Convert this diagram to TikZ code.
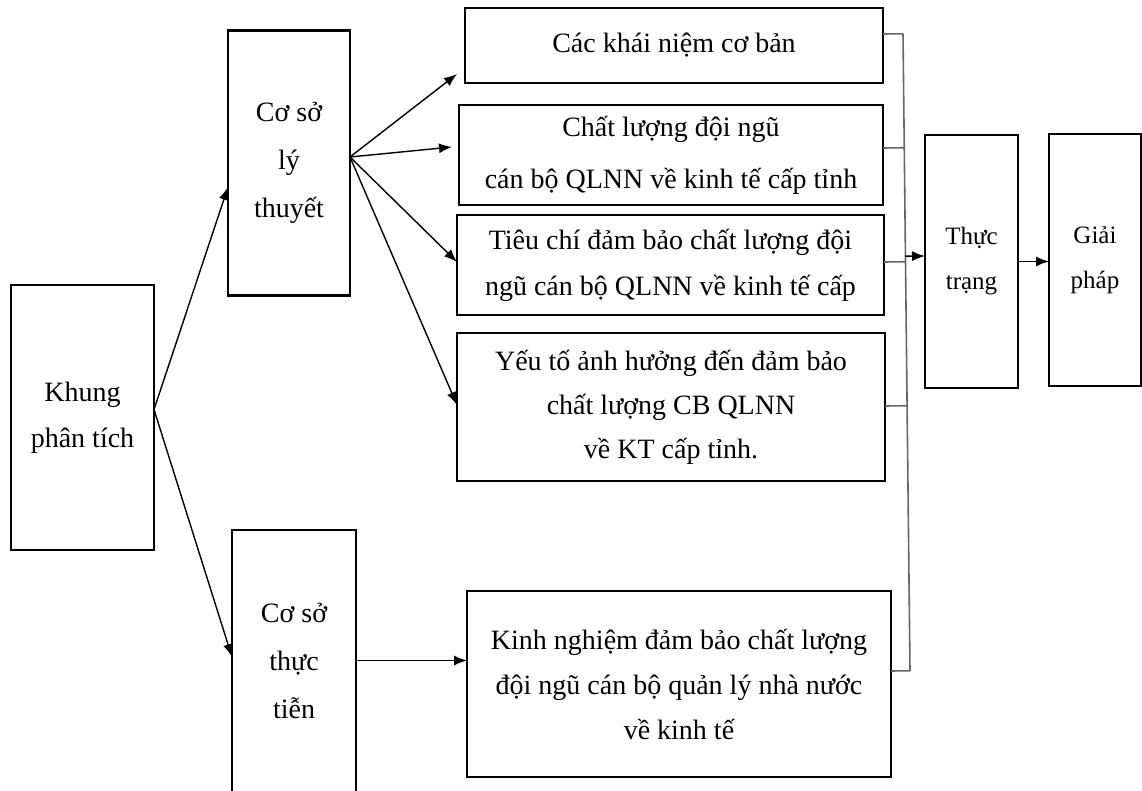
\documentclass[tikz,border=0pt]{standalone}
\usepackage{fontspec}
\setmainfont{Liberation Serif}
\usetikzlibrary{calc,arrows.meta}
\begin{document}
\begin{tikzpicture}[x=1pt,y=-1pt,
  box/.style={draw, line width=2.8pt, inner sep=0pt, outer sep=0pt, align=center,
    font=\fontsize{28}{46}\selectfont},
  openbox/.style={inner sep=0pt, outer sep=0pt, align=center,
    font=\fontsize{28}{48}\selectfont},
  smallbox/.style={box, font=\fontsize{25}{45}\selectfont},
  arr/.style={line width=1.4pt, -{Latex[length=13pt,width=10pt]}},
  brk/.style={line width=1.6pt, draw=black!60}]
\useasboundingbox (0,0) rectangle (1142,791);
\fill[white] (0,0) rectangle (1142,791);

\node[box, minimum width=143, minimum height=265] (kh) at (82.5,417.5) {Khung\\phân tích};
\node[box, minimum width=122, minimum height=265, font=\fontsize{28}{48}\selectfont] (lt) at (289,163) {Cơ sở\\lý\\thuyết};
\node[openbox, minimum width=124, minimum height=261] (ts) at (294,660.5) {Cơ sở\\thực\\tiễn};
\draw[line width=2.8pt] (ts.south west) -- (ts.north west) -- (ts.north east) -- (ts.south east);

\node[box, minimum width=418, minimum height=75] (k1) at (674,45.5) {Các khái niệm cơ bản};
\node[box, minimum width=424, minimum height=100, font=\fontsize{28}{52}\selectfont] (k2) at (671,155) {Chất lượng đội ngũ\\ cán bộ QLNN về kinh tế cấp tỉnh};
\node[box, minimum width=427, minimum height=100] (k3) at (670.5,265) {Tiêu chí đảm bảo chất lượng đội\\ngũ cán bộ QLNN về kinh tế cấp};
\node[box, minimum width=428, minimum height=148, font=\fontsize{28}{44}\selectfont] (k4) at (671,407) {Yếu tố ảnh hưởng đến đảm bảo\\chất lượng CB QLNN\\về KT cấp tỉnh.};
\node[box, minimum width=424, minimum height=186, font=\fontsize{28}{45}\selectfont] (kn) at (679,684) {Kinh nghiệm đảm bảo chất lượng\\đội ngũ cán bộ quản lý nhà nước\\về kinh tế};

\node[smallbox, minimum width=93, minimum height=253] (tt) at (971.5,261.5) {Thực\\trạng};
\node[smallbox, minimum width=92, minimum height=252] (gp) at (1095,260) {Giải\\pháp};

% from Khung
\draw[arr] ($(kh.east)+(0,-8)$) -- ($(lt.west)+(0,24)$);
\draw[arr] ($(kh.east)+(0,-8)$) -- ($(ts.west)+(0,-3.5)$);

% from Co so ly thuyet
\coordinate (ltout) at ($(lt.east)+(0,-6)$);
\draw[arr] (ltout) -- ($(k1.south west)+(-8,-9)$);
\draw[arr] (ltout) -- ($(k2.west)+(-7,-8)$);
\draw[arr] (ltout) -- ($(k3.west)+(0,-3)$);
\draw[arr] (ltout) -- ($(k4.west)+(0,-2)$);

% from Co so thuc tien
\draw[arr] (ts.east) -- (ts.east -| kn.west);

% bracket
\coordinate (btop) at (903,34);
\coordinate (bbot) at (910,671);
\coordinate (s1) at ($(k1.east)+(0,-11.5)$);
\coordinate (s2) at ($(k2.east)+(0,-7)$);
\coordinate (s3) at ($(k3.east)+(0,-3)$);
\coordinate (s4) at ($(k4.east)+(0,-1)$);
\coordinate (s5) at ($(kn.east)+(0,-13)$);
\draw[brk] (btop) -- (bbot);
\draw[brk] (s1) -- ($(btop)!(s1)!(bbot)$);
\draw[brk] (s2) -- ($(btop)!(s2)!(bbot)$);
\draw[brk] (s3) -- ($(btop)!(s3)!(bbot)$);
\draw[brk] (s4) -- ($(btop)!(s4)!(bbot)$);
\draw[brk] (s5) -- ($(btop)!(s5)!(bbot)$);
\coordinate (ttin) at ($(tt.west)+(0,-5.5)$);
\draw[arr] ($(btop)!(ttin)!(bbot)$) -- (ttin);

% to Giai phap
\draw[arr] (tt.east) -- (tt.east -| gp.west);
\end{tikzpicture}
\end{document}
